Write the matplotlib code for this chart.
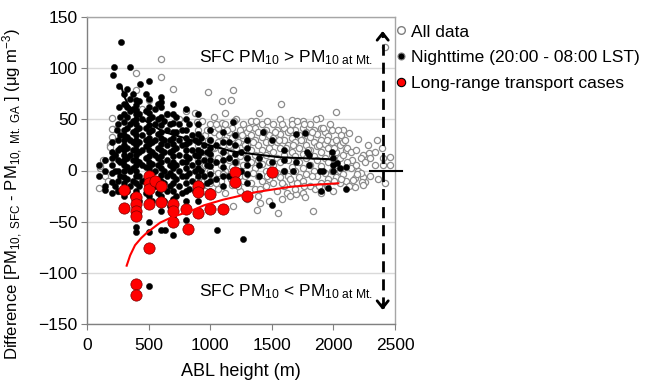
import matplotlib
matplotlib.use("Agg")
import matplotlib.pyplot as plt
from matplotlib.lines import Line2D
import numpy as np

plt.rcParams['font.family'] = ['Liberation Sans', 'DejaVu Sans']
plt.rcParams['mathtext.fontset'] = 'custom'
plt.rcParams['mathtext.rm'] = 'Liberation Sans'
plt.rcParams['mathtext.it'] = 'Liberation Sans'
plt.rcParams['mathtext.default'] = 'regular'

# ---------------- data ----------------
x_ticks = [0, 500, 1000, 1500, 2000, 2500]
y_ticks = [-150, -100, -50, 0, 50, 100, 150]

# All data (open gray circles): ABL height (m), difference (ug m-3)
all_pts = [
    (100, -17), (105, 2), (187, 25), (200, 33), (210, 41), (200, 51), (150, -5), (130, 10),
    (250, -20), (170, -10), (230, 15), (203, 41), (189, 23), (108, 4),
    (395, 95), (398, 79), (503, 69), (598, 109), (598, 91), (701, 80), (450, 60), (650, 55),
    (750, 50), (800, 58),
    (877, 56), (890, 47), (985, 77), (1188, 79), (1093, 68), (1169, 69), (1120, 56), (1396, 56),
    (1572, 65), (1093, 46), (2021, 57), (1891, 51), (1756, 48), (1661, 49), (2081, 40), (2130, 37),
    (2202, 31), (2419, 121), (2244, 15), (2292, 17), (2338, 18), (2392, 22), (2459, 13), (2459, 5),
    (2403, 5), (2337, 5), (2419, -12), (2256, -11), (2244, -6), (2175, -16), (2175, -7), (2162, -9),
    (2230, -11), (2243, -14), (1377, -39), (1404, -32), (1553, -42), (1837, -40), (1580, -28),
    (1188, -35), (1625, -22), (1650, -25), (1700, -23), (1750, -22), (1770, -26), (1850, -18),
    (1900, -22), (1950, -15), (2000, -20), (2050, -12), (2100, -10), (2200, 0), (2150, 10),
    (2100, 20), (2280, 25), (2350, 30), (2400, 12), (2300, -5), (2360, -8),
    (900, 40), (900, 25), (900, 10), (900, -8),
    (930, 48), (930, 30), (930, 18), (930, 2), (930, -15),
    (960, 35), (960, 20), (960, 5), (960, -20),
    (1000, 45), (1000, 30), (1000, 15), (1000, 0), (1000, -12),
    (1030, 52), (1030, 38), (1030, 22), (1030, 8), (1030, -5),
    (1060, 42), (1060, 28), (1060, 12), (1060, -2), (1060, -18),
    (1090, 35), (1090, 20), (1090, 5), (1090, -10),
    (1120, 45), (1120, 30), (1120, 15), (1120, 0), (1120, -22),
    (1150, 38), (1150, 25), (1150, 10), (1150, -5),
    (1180, 42), (1180, 32), (1180, 18), (1180, 3), (1180, -14),
    (1210, 50), (1210, 35), (1210, 22), (1210, 8), (1210, -8),
    (1240, 40), (1240, 28), (1240, 14), (1240, 0), (1240, -20),
    (1270, 45), (1270, 32), (1270, 18), (1270, 5), (1270, -10),
    (1300, 38), (1300, 25), (1300, 12), (1300, -3), (1300, -28),
    (1330, 48), (1330, 35), (1330, 20), (1330, 8), (1330, -12),
    (1360, 42), (1360, 30), (1360, 15), (1360, 2), (1360, -18),
    (1390, 38), (1390, 25), (1390, 10), (1390, -5), (1390, -25),
    (1420, 45), (1420, 33), (1420, 20), (1420, 6), (1420, -10),
    (1450, 40), (1450, 28), (1450, 15), (1450, 0), (1450, -15),
    (1480, 35), (1480, 22), (1480, 8), (1480, -8), (1480, -30),
    (1510, 45), (1510, 32), (1510, 18), (1510, 5), (1510, -12),
    (1540, 40), (1540, 28), (1540, 12), (1540, -2), (1540, -20),
    (1570, 50), (1570, 36), (1570, 22), (1570, 8), (1570, -6),
    (1600, 42), (1600, 30), (1600, 15), (1600, 0), (1600, -15),
    (1630, 38), (1630, 25), (1630, 10), (1630, -5),
    (1660, 45), (1660, 32), (1660, 18), (1660, 3), (1660, -12),
    (1690, 40), (1690, 28), (1690, 14), (1690, 0), (1690, -18),
    (1720, 35), (1720, 22), (1720, 8), (1720, -6),
    (1750, 42), (1750, 30), (1750, 16), (1750, 2), (1750, -10),
    (1780, 38), (1780, 25), (1780, 12), (1780, -3),
    (1810, 45), (1810, 33), (1810, 20), (1810, 5), (1810, -15),
    (1840, 40), (1840, 28), (1840, 14), (1840, 0),
    (1870, 36), (1870, 24), (1870, 10), (1870, -5),
    (1900, 42), (1900, 30), (1900, 18), (1900, 4), (1900, -12),
    (1930, 38), (1930, 26), (1930, 12), (1930, -2),
    (1960, 34), (1960, 22), (1960, 8), (1960, -8),
    (1990, 40), (1990, 28), (1990, 15), (1990, 0),
    (2020, 30), (2020, 18), (2020, 5), (2020, -6),
    (2050, 25), (2050, 12), (2050, 0),
    (2080, 28), (2080, 15), (2080, -3),
    (2110, 22), (2110, 8), (2140, 18), (2140, 2), (2180, 20), (2180, 5),
    (2220, 12), (2220, -2), (2260, 8), (2300, 12),
    (915, 33), (945, 12), (975, 40), (1015, 22), (1045, 45), (1075, 35), (1105, 25), (1135, 40),
    (1165, 18), (1195, 48), (1225, 28), (1255, 35), (1285, 25), (1315, 42), (1345, 28), (1375, 48),
    (1405, 15), (1435, 38), (1465, 48), (1495, 28), (1525, 38), (1555, 30), (1585, 45), (1615, 22),
    (1645, 40), (1675, 25), (1705, 48), (1735, 30), (1765, 45), (1795, 20), (1825, 38), (1855, 50),
    (1885, 25), (1915, 42), (1945, 30), (1975, 45), (2005, 22), (2035, 40), (2065, 35), (2095, 30),
    (915, -5), (975, -8), (1045, -12), (1105, -3), (1165, -8), (1225, -15), (1285, -5), (1345, -2),
    (1405, -18), (1465, -5), (1525, -3), (1585, -12), (1645, -8), (1705, -12), (1765, -15),
    (1825, -5), (1885, -15), (1945, -12), (2005, -10), (2065, -8), (2125, -15), (2190, -3),
]

# Nighttime (20:00 - 08:00 LST) (filled black circles)
night_pts = [
    (100, -5), (100, 5), (150, -15), (150, 0), (150, 10), (150, -19),
    (200, -22), (200, -11), (200, -2), (200, 5), (200, 12), (200, 18), (200, 28),
    (220, 101), (215, 93), (280, 126), (240, 40), (257, 62), (257, 83),
    (250, -20), (250, -10), (250, 0), (250, 10), (250, 20), (250, 30), (250, 45),
    (300, -25), (300, -18), (300, -12), (300, -6), (300, 0), (300, 5), (300, 10), (300, 15),
    (300, 20), (300, 25), (300, 30), (300, 35), (300, 40), (300, 47), (300, 55), (300, 65), (300, 75),
    (350, 101), (350, -15), (350, 0), (350, 15), (350, 30), (350, 45), (350, 58), (350, 70),
    (400, -60), (400, -55), (400, -45), (400, -20), (400, -12), (400, -5), (400, 0), (400, 5),
    (400, 10), (400, 15), (400, 20), (400, 25), (400, 30), (400, 35), (400, 40), (400, 45),
    (400, 50), (400, 55), (400, 59), (400, 64), (400, 69),
    (433, 85), (450, -10), (450, 5), (450, 20), (450, 35), (450, 50), (500, 87),
    (500, -113), (500, -60), (500, -50), (500, -35), (500, -25), (500, -18), (500, -10), (500, -4),
    (500, 2), (500, 8), (500, 14), (500, 20), (500, 26), (500, 32), (500, 38), (500, 44),
    (500, 50), (500, 56), (500, 62), (500, 70),
    (550, -15), (550, 0), (550, 15), (550, 30), (550, 45), (550, 60),
    (600, -58), (600, -40), (600, -25), (600, -18), (600, -10), (600, -4), (600, 2), (600, 8),
    (600, 14), (600, 20), (600, 26), (600, 32), (600, 38), (600, 44), (600, 52), (600, 62),
    (600, 67), (600, 72),
    (636, -58), (650, -20), (650, -5), (650, 10), (650, 25), (650, 40), (650, 55),
    (700, -63), (700, -45), (700, -28), (700, -20), (700, -12), (700, -5), (700, 2), (700, 8),
    (700, 14), (700, 20), (700, 26), (700, 32), (700, 38), (700, 46), (700, 55), (700, 65),
    (750, -15), (750, 0), (750, 15), (750, 30), (750, 45),
    (800, -48), (800, -30), (800, -20), (800, -12), (800, -5), (800, 2), (800, 8), (800, 14),
    (800, 20), (800, 26), (800, 32), (800, 40), (800, 50), (800, 60),
    (850, -10), (850, 5), (850, 20), (850, 35),
    (900, -30), (900, -20), (900, -12), (900, -5), (900, 2), (900, 8), (900, 14), (900, 20),
    (900, 28), (900, 36), (900, 45), (900, 55),
    (950, -5), (950, 10), (950, 25),
    (1000, -20), (1000, -10), (1000, -3), (1000, 4), (1000, 10), (1000, 16), (1000, 22),
    (1000, 30), (1000, 40), (1058, -58),
    (1100, -15), (1100, -5), (1100, 3), (1100, 10), (1100, 18), (1100, 28), (1100, 38),
    (1182, 47), (1200, -10), (1200, 0), (1200, 8), (1200, 16), (1200, 25), (1200, 35),
    (1263, -67), (1300, -12), (1300, -3), (1300, 5), (1300, 12), (1300, 22), (1300, 30),
    (1400, -5), (1400, 5), (1400, 12), (1430, 38),
    (1500, -34), (1500, -2), (1500, 8), (1500, 30),
    (1600, 0), (1600, 10), (1600, 20),
    (1674, 0), (1700, 8), (1700, 36), (1769, 37), (1783, 18), (1800, 5), (1800, 15),
    (1891, 0), (1918, 0), (1897, -20), (1959, -17), (1986, 18), (2026, 7),
    (2000, 0), (2000, 5), (2000, 12), (2050, 2), (2100, -18), (2100, 3),
    (225, -15), (225, 0), (225, 15), (270, -5), (270, 8), (270, 22), (270, 35), (270, 52),
    (325, -20), (325, -8), (325, 3), (325, 12), (325, 22), (325, 33), (325, 42), (325, 52),
    (325, 62), (325, 80),
    (375, -25), (375, -10), (375, 2), (375, 10), (375, 20), (375, 28), (375, 38), (375, 48),
    (375, 60), (375, 75),
    (425, -30), (425, -15), (425, -5), (425, 8), (425, 18), (425, 28), (425, 42), (425, 55), (425, 68),
    (475, -22), (475, -8), (475, 3), (475, 12), (475, 24), (475, 30), (475, 42), (475, 58), (475, 75),
    (525, -30), (525, -12), (525, -2), (525, 6), (525, 18), (525, 28), (525, 40), (525, 52),
    (575, -22), (575, -8), (575, 5), (575, 12), (575, 22), (575, 36), (575, 50), (575, 65),
    (625, -30), (625, -12), (625, 0), (625, 18), (625, 30), (625, 48),
    (675, -35), (675, -15), (675, -2), (675, 5), (675, 18), (675, 30), (675, 45),
    (725, -25), (725, -8), (725, 5), (725, 22), (725, 38), (725, 52),
    (775, -22), (775, -5), (775, 8), (775, 25), (775, 40),
    (825, -18), (825, -2), (825, 12), (825, 28), (825, 45),
    (875, -20), (875, 0), (875, 15), (875, 30),
    (925, -15), (925, 0), (925, 18), (925, 32),
    (975, -12), (975, 5), (975, 18),
    (1050, -8), (1050, 8), (1050, 25), (1150, -5), (1150, 12), (1150, 28), (1250, 0), (1250, 18),
]

# Long-range transport cases (red)
lrt_abl = [300, 300, 400, 400, 400, 400, 400, 400, 500, 500, 500, 500, 500, 550, 600, 600,
           700, 700, 700, 800, 820, 900, 900, 900, 1000, 1000, 1100, 1200, 1200, 1300, 1500]
lrt_diff = [-19, -37, -26, -33, -40, -44, -111, -122, -5, -12, -18, -33, -76, -10, -15, -31,
            -33, -40, -50, -38, -57, -15, -21, -42, -23, -38, -38, -1, -11, -25, -1]

# Fitted curves
fit_night_abl = [281, 300, 340, 403, 484, 620, 890, 1188, 1567, 2000]
fit_night_diff = [81.2, 73, 63, 55.8, 47.7, 37.9, 28.1, 18.4, 12.9, 10.9]
fit_lrt_abl = [322, 350, 390, 440, 484, 593, 700, 836, 950, 1106, 1377, 1648, 1837, 2040]
fit_lrt_diff = [-93, -83, -73, -66, -61, -51, -45, -40, -34, -28.5, -21, -16, -14, -12.5]

legend_labels = ["All data", "Nighttime (20:00 - 08:00 LST)", "Long-range transport cases"]

# ---------------- figure ----------------
fig = plt.figure(figsize=(6.48, 3.80), dpi=100)
ax = fig.add_axes([87 / 648, 1 - 324 / 380, 308 / 648, 307 / 380])

ax_x, ax_y = zip(*all_pts)
nx, ny = zip(*night_pts)

ax.scatter(ax_x, ax_y, s=20, facecolors='white', edgecolors='#8c8c8c', linewidths=0.9, zorder=3)
ax.scatter(nx, ny, s=20, c='black', edgecolors='black', linewidths=0.3, zorder=4)
ax.scatter(lrt_abl, lrt_diff, s=66, c='#ff0000', edgecolors='#7a0000', linewidths=0.5, zorder=5)

ax.plot(fit_night_abl, fit_night_diff, color='black', lw=1.5, zorder=6)
ax.plot(fit_lrt_abl, fit_lrt_diff, color='#ff0000', lw=1.5, zorder=6)

ax.set_xlim(0, 2500)
ax.set_ylim(-150, 150)
ax.set_xticks(x_ticks)
ax.set_yticks(y_ticks)
ax.tick_params(axis='both', labelsize=12.5, direction='out', length=4, width=0.8,
               color='#808080', pad=3)
ax.tick_params(axis='x', pad=6)
for sp in ax.spines.values():
    sp.set_color('#a6a6a6')
    sp.set_linewidth(1.0)
ax.spines['left'].set_color('#808080')
ax.spines['bottom'].set_color('#808080')
ax.yaxis.grid(True, color='#d9d9d9', lw=1.0, zorder=0)
ax.set_axisbelow(True)

ax.set_xlabel("ABL height (m)", fontsize=13)
ax.set_ylabel(r"Difference [PM$_{10,\ SFC}$ - PM$_{10,\ Mt.\ GA}$ ] ($\mu$g m$^{-3}$)", fontsize=12)
ax.yaxis.set_label_coords(-0.20, 0.425)
ax.xaxis.labelpad = 7

# annotations
ax.text(1615, 110, r"SFC PM$_{10}$ > PM$_{10\ at\ Mt.}$", fontsize=12.5, ha='center', va='center', zorder=7)
ax.text(1615, -118, r"SFC PM$_{10}$ < PM$_{10\ at\ Mt.}$", fontsize=12.5, ha='center', va='center', zorder=7)

# dashed double arrow
ax.plot([2400, 2400], [-134, 134], color='black', lw=2.0, ls=(0, (4, 2.5)), zorder=7, clip_on=False)
ax.annotate("", xy=(2400, 139), xytext=(2400, 128),
            arrowprops=dict(arrowstyle='->,head_length=0.5,head_width=0.4', color='black', lw=2.0),
            zorder=7, annotation_clip=False)
ax.annotate("", xy=(2400, -139), xytext=(2400, -128),
            arrowprops=dict(arrowstyle='->,head_length=0.5,head_width=0.4', color='black', lw=2.0),
            zorder=7, annotation_clip=False)
ax.plot([2297, 2557], [0, 0], color='black', lw=1.5, zorder=7, clip_on=False)

# legend
handles = [
    Line2D([], [], ls='none', marker='o', ms=5.5, mfc='white', mec='#7f7f7f', mew=1.0),
    Line2D([], [], ls='none', marker='o', ms=5.0, mfc='black', mec='#7f7f7f', mew=0.8),
    Line2D([], [], ls='none', marker='o', ms=6.0, mfc='#ff0000', mec='black', mew=0.8),
]
leg = ax.legend(handles, legend_labels, loc='upper left', bbox_to_anchor=(1.005, 0.976),
                frameon=False, fontsize=12.5, handlelength=0.5, handletextpad=0.35,
                labelspacing=0.6, borderpad=0, borderaxespad=0)

fig.savefig("out.png", dpi=100)
